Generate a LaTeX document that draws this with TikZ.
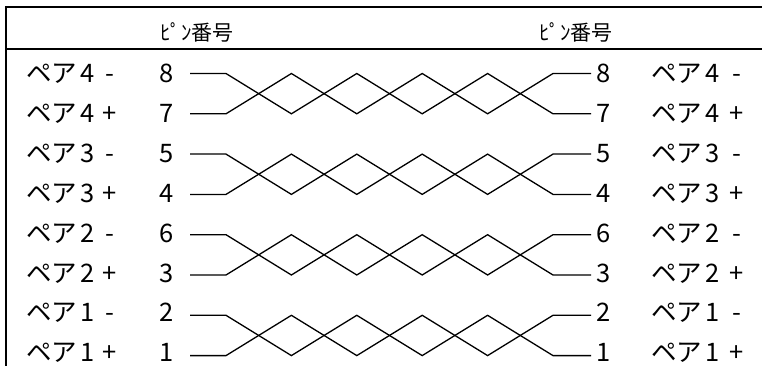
\documentclass[tikz,border=0pt]{standalone}
\usepackage{fontspec}
\setmainfont{Noto Sans CJK JP}
\usepackage{tikz}
\usetikzlibrary{calc,positioning}

\begin{document}
\begin{tikzpicture}[x=1pt,y=-1pt,
  rahmen/.style={line width=2pt},
  ader/.style={line width=1.3pt},
  nummer/.style={inner xsep=16pt,inner ysep=0pt,font=\fontsize{25.5}{30}\selectfont},
  paar/.style={inner sep=0pt,anchor=base west,font=\fontsize{25.5}{30}\selectfont},
  vorz/.style={inner sep=0pt,anchor=base,font=\fontsize{25.5}{30}\selectfont},
  kopf/.style={inner sep=0pt,anchor=base,font=\fontsize{21}{25}\selectfont}]
%Zeilenabstand dy (Adern) bzw. dt (Schrift), ein halber Schlag der verdrillten Ader ist dx breit
%5 Kreuzungen: 190+36+5*dx = 553
  \pgfmathsetmacro{\dy}{40.3}
  \pgfmathsetmacro{\dt}{39.8}
  \pgfmathsetmacro{\dx}{65.4}
  \useasboundingbox (0,0) rectangle (762,366);
  \draw[rahmen] (6,366) -- (6,7) -- (762,7);
  \draw[rahmen] (6,49) -- (762,49);
  \node[kopf] (kopfL) at (197,41) {ﾋﾟﾝ番号};
  \node[kopf] (kopfR) at (576,41) {ﾋﾟﾝ番号};
\foreach \paar/\pinA/\pinB [count=\i from 0] in {4/8/7,3/5/4,2/6/3,1/2/1}{
  \pgfmathsetmacro{\ya}{73.5+2*\i*\dy}
  \pgfmathsetmacro{\yb}{\ya+\dy}
  \pgfmathsetmacro{\ta}{83+2*\i*\dt}
  \pgfmathsetmacro{\tb}{\ta+\dt}
  \node[nummer,anchor=base east] (l\pinA) at (190,\ta) {\pinA};
  \node[nummer,anchor=base east] (l\pinB) at (190,\tb) {\pinB};
  \node[nummer,anchor=base west,inner xsep=5pt] (r\pinA) at (591,\ta) {\pinA};
  \node[nummer,anchor=base west,inner xsep=5pt] (r\pinB) at (591,\tb) {\pinB};
  \node[paar] (pl\pinA) at (26,\ta) {ペア\kern3pt\paar};
  \node[paar] (pl\pinB) at (26,\tb) {ペア\kern3pt\paar};
  \node[paar] (pr\pinA) at (651,\ta) {ペア\kern3pt\paar};
  \node[paar] (pr\pinB) at (651,\tb) {ペア\kern3pt\paar};
  \node[vorz] (vl\pinA) at (110,\ta) {-};
  \node[vorz] (vl\pinB) at (110,\tb) {+};
  \node[vorz] (vr\pinA) at (737,\ta) {-};
  \node[vorz] (vr\pinB) at (737,\tb) {+};
  \draw[ader] (l\pinA.east |- 0,\ya) -- ++(36,0) -- ++(\dx,\dy) -- ++(\dx,-\dy) -- ++(\dx,\dy) -- ++(\dx,-\dy) -- ++(\dx,\dy) -- (r\pinB.west |- 0,\yb);
  \draw[ader] (l\pinB.east |- 0,\yb) -- ++(36,0) -- ++(\dx,-\dy) -- ++(\dx,\dy) -- ++(\dx,-\dy) -- ++(\dx,\dy) -- ++(\dx,-\dy) -- (r\pinA.west |- 0,\ya);
}
\end{tikzpicture}
\end{document}
